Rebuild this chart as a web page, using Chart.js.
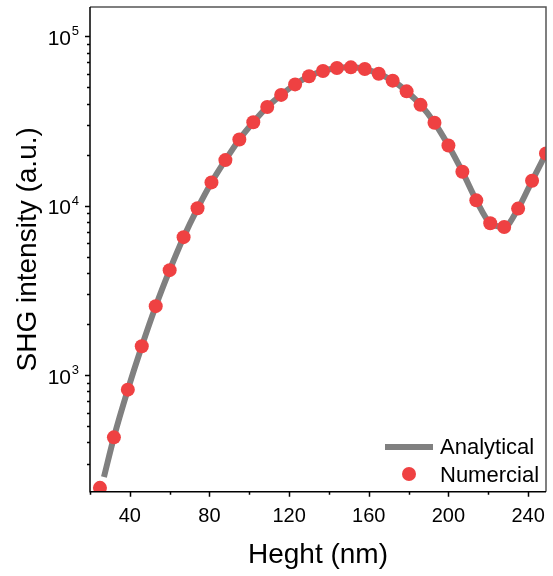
<!DOCTYPE html>
<html>
<head>
<meta charset="utf-8">
<script src="https://cdn.jsdelivr.net/npm/chart.js@4.4.1/dist/chart.umd.min.js"></script>
<style>
  html, body { margin: 0; padding: 0; background: #fff; }
  #wrap { width: 553px; height: 576px; }
</style>
</head>
<body>
<div id="wrap"><canvas id="shgChart" width="553" height="576"></canvas></div>
<script>
// heights (nm) of the numerical points
const numX = [25, 32, 39, 46, 53, 60, 67, 74, 81, 88, 95, 102, 109, 116, 123, 130, 137,
              144, 151, 158, 165, 172, 179, 186, 193, 200, 207, 214, 221, 228, 235, 242, 249];
const numY = [216, 429, 820, 1480, 2550, 4160, 6510, 9640, 13700, 18550, 24550, 31000, 38200,
              45000, 51900, 57900, 62300, 64800, 65400, 64000, 60000, 54600, 47200, 39300,
              30800, 22600, 15850, 10740, 7870, 7480, 9600, 14000, 20300];

// analytical curve
const anaX = [27, 32, 39, 46, 53, 60, 67, 74, 81, 88, 95, 102, 109, 116, 123, 130, 137,
              144, 151, 158, 165, 172, 179, 186, 193, 200, 207, 214, 221, 228, 235, 242, 249];
const anaY = [250, 429, 820, 1480, 2550, 4160, 6510, 9640, 13700, 18550, 24550, 31000, 38200,
              45000, 51900, 57900, 62300, 64800, 65400, 64000, 60000, 54600, 47200, 39300,
              30800, 22600, 15850, 10740, 7870, 7480, 9600, 14000, 20300];

const xTicks = [20, 40, 60, 80, 100, 120, 140, 160, 180, 200, 220, 240];
const xLabels = [40, 80, 120, 160, 200, 240];
const yTicks = [300, 400, 500, 600, 700, 800, 900,
                1000, 2000, 3000, 4000, 5000, 6000, 7000, 8000, 9000,
                10000, 20000, 30000, 40000, 50000, 60000, 70000, 80000, 90000, 100000];

const FONT = "'Liberation Sans', Arial, sans-serif";
const GREY = '#808080';
const RED = '#ef4142';

const axisFrame = {
    id: 'axisFrame',
    afterDraw(chart) {
        const { ctx, chartArea: a, scales: { x, y } } = chart;
        ctx.save();
        ctx.lineWidth = 1.5;

        // top + right
        ctx.strokeStyle = '#555';
        ctx.beginPath();
        ctx.moveTo(a.left, a.top);
        ctx.lineTo(a.right, a.top);
        ctx.lineTo(a.right, a.bottom);
        ctx.stroke();

        // left + bottom axes with outward ticks
        ctx.strokeStyle = '#000';
        ctx.beginPath();
        ctx.moveTo(a.left, a.top);
        ctx.lineTo(a.left, a.bottom);
        ctx.lineTo(a.right, a.bottom);
        x.ticks.forEach(t => {
            const px = Math.round(x.getPixelForValue(t.value)) + 0.5;
            const len = xLabels.includes(t.value) ? 5 : 3;
            ctx.moveTo(px, a.bottom);
            ctx.lineTo(px, a.bottom + len);
        });
        y.ticks.forEach(t => {
            const py = Math.round(y.getPixelForValue(t.value)) + 0.5;
            const major = Number.isInteger(Math.log10(t.value));
            ctx.moveTo(a.left, py);
            ctx.lineTo(a.left - (major ? 5 : 3), py);
        });
        ctx.stroke();

        // y labels 10^n
        ctx.fillStyle = '#000';
        ctx.textBaseline = 'alphabetic';
        ctx.textAlign = 'right';
        y.ticks.forEach(t => {
            const e = Math.log10(t.value);
            if (!Number.isInteger(e)) return;
            const py = y.getPixelForValue(t.value);
            ctx.font = '21px ' + FONT;
            ctx.fillText('10', a.left - 19, py + 8.5);
            ctx.font = '13px ' + FONT;
            ctx.fillText(String(e), a.left - 11, py - 1);
        });

        // legend
        const lx = 385, ly1 = 447, ly2 = 474;
        ctx.strokeStyle = GREY;
        ctx.lineWidth = 6;
        ctx.beginPath();
        ctx.moveTo(lx, ly1);
        ctx.lineTo(lx + 48, ly1);
        ctx.stroke();
        ctx.fillStyle = RED;
        ctx.beginPath();
        ctx.arc(lx + 24, ly2, 7, 0, Math.PI * 2);
        ctx.fill();
        ctx.fillStyle = '#000';
        ctx.textAlign = 'left';
        ctx.font = '22px ' + FONT;
        ctx.fillText(chart.data.datasets[1].label, 440, ly1 + 6.5);
        ctx.fillText(chart.data.datasets[0].label, 440, ly2 + 7.5);
        ctx.restore();
    }
};

const ctx = document.getElementById('shgChart').getContext('2d');
new Chart(ctx, {
    type: 'scatter',
    data: {
        datasets: [{
            label: 'Numercial',
            data: numX.map((v, i) => ({ x: v, y: numY[i] })),
            backgroundColor: RED,
            borderWidth: 0,
            pointRadius: 7,
            pointHoverRadius: 7,
            order: 0
        }, {
            label: 'Analytical',
            data: anaX.map((v, i) => ({ x: v, y: anaY[i] })),
            showLine: true,
            borderColor: GREY,
            borderWidth: 6,
            pointRadius: 0,
            cubicInterpolationMode: 'monotone',
            order: 1
        }]
    },
    options: {
        responsive: false,
        animation: false,
        devicePixelRatio: 1,
        layout: { padding: { top: 5, right: 1.5, left: 0, bottom: 0 } },
        plugins: { legend: { display: false }, tooltip: { enabled: false } },
        scales: {
            x: {
                type: 'linear',
                min: 20,
                max: 249,
                afterBuildTicks: s => { s.ticks = xTicks.map(v => ({ value: v })); },
                afterFit: s => { s.height = 84.3; },
                grid: { display: false },
                border: { display: false },
                ticks: {
                    autoSkip: false,
                    maxRotation: 0,
                    padding: 5,
                    color: '#000',
                    font: { family: FONT, size: 20 },
                    callback: v => xLabels.includes(v) ? String(v) : ''
                },
                title: {
                    display: true,
                    text: 'Heght (nm)',
                    color: '#000',
                    font: { family: FONT, size: 28, lineHeight: 1 },
                    padding: { top: 0, bottom: 7 }
                }
            },
            y: {
                type: 'logarithmic',
                min: 205,
                max: 148500,
                afterBuildTicks: s => { s.ticks = yTicks.map(v => ({ value: v })); },
                afterFit: s => { s.width = 90; },
                grid: { display: false },
                border: { display: false },
                ticks: { display: false },
                title: {
                    display: true,
                    text: 'SHG intensity (a.u.)',
                    color: '#000',
                    font: { family: FONT, size: 28, lineHeight: 1 },
                    padding: { top: 14, bottom: 0 }
                }
            }
        }
    },
    plugins: [axisFrame]
});
</script>
</body>
</html>
